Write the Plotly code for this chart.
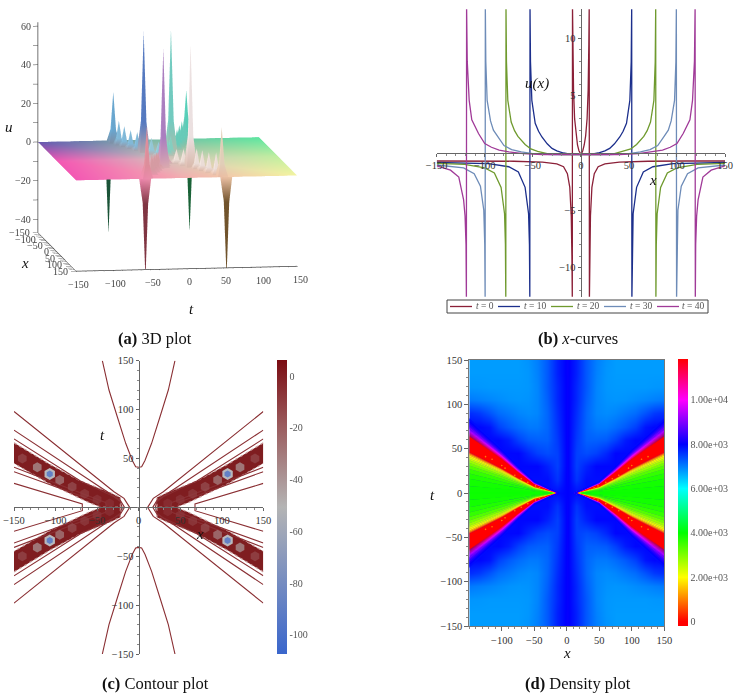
import numpy as np
import plotly.graph_objects as go
from plotly.colors import sample_colorscale

W, H = 738, 699
SERIF = "Liberation Serif"

# ---------- panel (a): 3D spikes
peak_x = [-146,-137,-122,-108,-93,-76,-60,-45,-30, 146,140,110,93,80,65,60,45,30,
          -146,-137,-122,-108,-93,-76,-60,-45,-30, 146,137,122,105,88,73,60,45,30]
peak_t = [-55,-50,-45,-40,-34,-28,-22,-14,-7, -55,-52,-40,-34,-29,-24,-16,-12,-6,
          55,49,44,38,32,26,15,12,6, 55,50,45,38,32,27,21,14,7]
peak_u = [-48,26,12,10,9,9,62,8,7, -52,27,10,9,9,8,61,8,7,
          -48,26,14,12,11,10,63,9,8, -52,25,11,10,10,10,63,8,7]
peak_rgb = ["#1c5a3c","#72b4e0","#8cc8ea","#8cc8ea","#8cc8ea","#8cc8ea","#5c84d0","#a0d8e8","#a0d8e8",
            "#8a3a48","#f09aa8","#e8a8b0","#e8a8b0","#e8a8b0","#e8a8b0","#b98ad0","#e8b0c0","#e8b0c0",
            "#1c6a3c","#60e0c8","#70dcc8","#70dcc8","#70dcc8","#70dcc8","#7cdcd0","#90e0d0","#90e0d0",
            "#7a5a30","#f5e0c8","#fff0ea","#fff0ea","#fff0ea","#fff0ea","#fff4f4","#fff0e8","#fff0e8"]
sheet_x = [-150, 0, 150]
sheet_t = [-150, 0, 150]
sheet_rgb = [[(106,92,184),(128,192,176),(95,240,168)],
             [(255,92,188),(222,205,196),(200,250,168)],
             [(255,92,188),(255,184,184),(255,255,168)]]
spike_half_x, spike_half_t = 11.0, 7.0    # foot of a spike, in axis units
spike_waist, spike_waist_u = 0.42, 0.25   # where the spike's sides steepen
a_t_labels = [-150,-100,-50,0,50,100,150]
a_x_labels = [-150,-100,-50,0,50,100,150]
a_u_labels = [-40,-20,0,20,40,60]

def hexrgb(h): return "rgb(%d,%d,%d)" % (int(h[1:3],16),int(h[3:5],16),int(h[5:7],16))
def sheet_colour(xv,tv):
    cc = np.array(sheet_rgb,float)
    fx=(xv+150)/150; ft=(tv+150)/150
    i0=min(int(fx),1); j0=min(int(ft),1); u=fx-i0; v=ft-j0
    c=(1-u)*(1-v)*cc[i0,j0]+u*(1-v)*cc[i0+1,j0]+(1-u)*v*cc[i0,j0+1]+u*v*cc[i0+1,j0+1]
    return "rgb(%d,%d,%d)" % tuple(c)

mx,mt,mu,mc,mi,mj,mk=[],[],[],[],[],[],[]
for xv in sheet_x:
    for tv in sheet_t:
        mx.append(xv); mt.append(tv); mu.append(0); mc.append(sheet_colour(xv,tv))
for p in range(2):
    for q in range(2):
        a,b,c,d=3*p+q,3*p+q+3,3*p+q+4,3*p+q+1
        mi+=[a,a]; mj+=[b,c]; mk+=[c,d]
for xv,tv,uv,cv in zip(peak_x,peak_t,peak_u,peak_rgb):
    n=len(mx)
    corners=[(-1,-1),(1,-1),(1,1),(-1,1)]
    for sx,st in corners:
        fx=min(max(xv+sx*spike_half_x,-150),150); ft=tv+st*spike_half_t
        mx.append(fx); mt.append(ft); mu.append(0); mc.append(sheet_colour(fx,ft))
    for sx,st in corners:
        mx.append(min(max(xv+sx*spike_half_x*spike_waist,-150),150)); mt.append(tv+st*spike_half_t*spike_waist)
        mu.append(uv*spike_waist_u); mc.append(hexrgb(cv))
    mx.append(xv); mt.append(tv); mu.append(uv); mc.append(hexrgb(cv))
    for s in range(4):
        o=n+s; o2=n+(s+1)%4; w=n+4+s; w2=n+4+(s+1)%4; tip=n+8
        mi+=[o,o,w]; mj+=[o2,w2,w2]; mk+=[w2,w,tip]
surface = go.Mesh3d(x=mt,y=mx,z=mu,i=mi,j=mj,k=mk,vertexcolor=mc,flatshading=True,
    lighting=dict(ambient=0.92,diffuse=0.2,specular=0.0,roughness=0.9,fresnel=0),
    lightposition=dict(x=-1000,y=-3000,z=3000),hoverinfo="skip",showscale=False,scene="scene")

# ---------- panel (b): x-curves
x_t0=[0,1,2,3.5,5,6.5,7.6,8.3,8.7,8.9,9.3,10,11.5,14,18,25,40,70,110,150]
u_t0=[-0.1,0,0.2,0.7,1.5,3,5.5,9.5,12.8,-12.8,-9,-5.5,-3,-1.8,-1.2,-.95,-.8,-.72,-.7,-.7]
x_t10=[0,10,18,25,30,35,40.5,44,47.5,51,52.4,52.9,53.1,53.5,54.4,58,65,75,96,150]
u_t10=[-.15,-.12,0,.18,.4,.8,1.4,1.9,2.6,4.6,8,12.8,-12.8,-8,-5.3,-3,-1.65,-1.2,-.92,-.83]
x_t20=[0,20,35,45,52,58,65.5,69,72.5,76,77.4,77.9,78.1,78.5,79.4,83,90,100,121,150]
u_t20=[-.15,-.13,-.05,.15,.35,.75,1.45,1.95,2.7,4.6,8,12.8,-12.8,-8,-5.3,-3,-1.75,-1.3,-1,-.9]
x_t30=[0,30,50,62,72,80,87,91,94,97.5,98.9,99.4,99.6,100,101,104.5,111,122,150]
u_t30=[-.15,-.13,-.05,.1,.3,.65,1.5,2,2.8,4.6,8,12.8,-12.8,-8,-5,-2.9,-1.8,-1.3,-1.05]
x_t40=[0,40,60,75,85,93,100,106.5,113.5,116.2,118.2,118.9,119.1,119.5,120.5,122,127,135.6,150]
u_t40=[-.15,-.13,-.05,.1,.25,.5,.83,1.7,2.9,4.6,8,12.8,-12.8,-8,-5.5,-4.1,-2.1,-1.5,-1.12]
curve_names = ["<i>t</i> = 0","<i>t</i> = 10","<i>t</i> = 20","<i>t</i> = 30","<i>t</i> = 40"]
curve_colors = ["#8b2038","#1c2f8c","#6f9a2e","#6e8cb8","#a03a98"]
curve_x = [x_t0,x_t10,x_t20,x_t30,x_t40]
curve_u = [u_t0,u_t10,u_t20,u_t30,u_t40]
key_line_from = [450,498,551,604,657]
key_text_at = [484.5,535,588,641,693]

# ---------- panel (c): contours, one quadrant each, mirrored by the symmetry of the plot
cap_x = [43.7,35.7,25.7,15.6,7.6,3.6,0]
cap_t = [150,120,92.7,65.5,48,41.6,41]
level_lines_x = [[150,29.7,17.6,10.8],[150,60,33.7,22,17],[150,70,30,22,20],
                 [150,67.8,67.8],[150,50,46],[150,40,38]]
level_lines_t = [[98,16,9.2,0],[79,28,13,7,0],[70,27,11,6,0],
                 [24.5,3.4,0],[36.5,5.8,0],[41,5,0]]
band_x = [150,107,70,34,22,22,45,60,107,150]
band_t = [66,44,27,15,10,0,0,5,24,45]
spot_x = [140,122,107,95,80,65,50,35]
spot_t = [50,41,34,28,21,14,8,4]
spot_u = [-14,-42,-105,-34,-16,-10,-8,-6]
c_ticks = [-100,-80,-60,-40,-20,0]
c_scale = [[0,"#3a66cc"],[0.5,"#b4b4b4"],[0.78,"#9a5a5c"],[1,"#7a0c12"]]
C_MIN, C_MAX = -107.4, 6.2

# ---------- panel (d): density
rainbow_v = [-200,0,2000,4000,6000,8000,10000,11850]
rainbow_c = ["#ff0000","#ff0000","#ffff00","#00ff00","#00ffff","#0000ff","#ff00ff","#ff0000"]
D_MIN, D_MAX = rainbow_v[0], rainbow_v[-1]
d_scale = [[(v-D_MIN)/(D_MAX-D_MIN),c] for v,c in zip(rainbow_v,rainbow_c)]
density_x = [0,15,30,45,60,75,90,105,120,135,150]
density_t = [0,15,30,45,60,75,90,105,120,135,150]
density_u = [
 [8000,7900,7900,7900,7900,7900,7900,7900,7900,7900,7900],
 [8050,7600,7900,7900,7900,7900,7900,7900,7900,7900,7900],
 [8050,7500,7750,7950,7950,7950,7900,7900,7900,7900,7900],
 [8050,7500,7400,7500,7700,7950,7950,7950,7900,7900,7900],
 [8050,7550,7250,7250,7300,7500,7800,7950,7950,7950,7900],
 [8050,7600,7200,7050,7050,7150,7300,7500,7850,7950,7950],
 [8050,7650,7200,6950,6900,6950,7050,7150,7350,7550,7650],
 [8050,7700,7250,6950,6850,6830,6850,6900,6950,7000,7050],
 [8050,7700,7300,6950,6820,6800,6800,6800,6800,6820,6830],
 [8050,7750,7300,6980,6820,6780,6780,6780,6780,6780,6780],
 [8050,7750,7300,7000,6850,6780,6780,6780,6780,6780,6780]]
band_edge = [0,8,16,22,27,31,34,37,39,41,42.5,44,45,46,64,65,66,67,68,69,70,71,72,73,74.5,76,78,80,82,84]
band_value = [3900,3850,3750,3600,3350,3100,2800,2500,2200,1900,1500,1000,500,0,11600,11200,10900,
              10600,10300,10000,9700,9400,9100,8900,8600,8350,8150,8000,7900]
ribbon_x = [12,25,50,75,100,125,150]
ribbon_s = [0,.05,.16,.37,.6,.8,1]
dot_x = [115,95,80,60,48,35,125,100,70,42]
dot_t = [38,28,20,12,8,4,41,31,16,6]
dot_u = [1000]*10
d_ticktext = ["0","2.00e+03","4.00e+03","6.00e+03","8.00e+03","1.00e+04"]
d_tickvals = [0,2000,4000,6000,8000,10000]

# ---------- layout helpers
def dom_x(a,b): return [a/W,b/W]
def dom_y(top,bot): return [1-bot/H,1-top/H]
tickfont = dict(family=SERIF,size=10.5,color="#333")
fig = go.Figure()
fig.add_trace(surface)

# (b)
for xs,us,n,cl in zip(curve_x,curve_u,curve_names,curve_colors):
    fig.add_trace(go.Scatter(x=[-v for v in xs[::-1]]+xs, y=us[::-1]+us, mode="lines", name=n,
        line=dict(color=cl,width=1.3), xaxis="x", yaxis="y", showlegend=False, hoverinfo="skip"))

# (c)
band_fx,band_ft=[],[]
for sx in (1,-1):
    for st in (1,-1):
        band_fx += [sx*v for v in band_x]+[None]
        band_ft += [st*v for v in band_t]+[None]
fig.add_trace(go.Scatter(x=band_fx,y=band_ft,mode="lines",fill="toself",fillcolor="#7f1d20",
    line=dict(color="#c99a9a",width=1.2,dash="dot"),xaxis="x2",yaxis="y2",showlegend=False,hoverinfo="skip"))
lx,lt=[],[]
for xs,ts in zip(level_lines_x,level_lines_t):
    for sx in (1,-1):
        lx += [sx*v for v in xs]+[sx*v for v in xs[-2::-1]]+[None]
        lt += ts+[-v for v in ts[-2::-1]]+[None]
for st in (1,-1):
    lx += [-v for v in cap_x]+cap_x[-2::-1]+[None]
    lt += [st*v for v in cap_t]+[st*v for v in cap_t[-2::-1]]+[None]
fig.add_trace(go.Scatter(x=lx,y=lt,mode="lines",line=dict(color="#8a2f33",width=1.1),
    xaxis="x2",yaxis="y2",showlegend=False,hoverinfo="skip"))
sx_all,st_all,su_all=[],[],[]
for sx in (1,-1):
    for st in (1,-1):
        sx_all += [sx*v for v in spot_x]; st_all += [st*v for v in spot_t]; su_all += spot_u
big = [i for i,v in enumerate(su_all) if v < -80]
fig.add_trace(go.Scatter(x=[sx_all[i] for i in big],y=[st_all[i] for i in big],mode="markers",
    marker=dict(size=12,color="#b8b8bc",symbol="hexagon",line=dict(width=0)),xaxis="x2",yaxis="y2",showlegend=False,hoverinfo="skip"))
fig.add_trace(go.Scatter(x=sx_all,y=st_all,mode="markers",
    marker=dict(size=[7 if v<-80 else 10 for v in su_all],symbol="hexagon",color=su_all,colorscale=c_scale,cmin=C_MIN,cmax=C_MAX,line=dict(width=0),
        colorbar=dict(x=277/W,xanchor="left",y=1-507/H,yanchor="middle",len=294/H,thickness=10,outlinewidth=0,
            tickvals=c_ticks,ticktext=["-100","-80","-60","-40","-20","0"],ticks="",xpad=0,ypad=0,
            tickfont=dict(family=SERIF,size=10,color="#555"))),
    xaxis="x2",yaxis="y2",showlegend=False,hoverinfo="skip"))

# (d)
def col(v): return sample_colorscale(d_scale,[(v-D_MIN)/(D_MAX-D_MIN)])[0]
hx = [-v for v in density_x[:0:-1]]+density_x
ht = [-v for v in density_t[:0:-1]]+density_t
half = [row[:0:-1]+row for row in density_u]
fig.add_trace(go.Heatmap(x=hx,y=ht,z=half[:0:-1]+half,zsmooth="best",colorscale=d_scale,zmin=D_MIN,zmax=D_MAX,
    colorbar=dict(x=678/W,xanchor="left",y=1-492.5/H,yanchor="middle",len=267/H,thickness=9.5,outlinewidth=0,xpad=0,ypad=0,
        tickvals=d_tickvals,ticktext=d_ticktext,ticks="",tickfont=dict(family=SERIF,size=10,color="#555")),
    xaxis="x3",yaxis="y3",hoverinfo="skip"))
for i,v in enumerate(band_value):
    low=[band_edge[i]*s for s in ribbon_s]; high=[band_edge[i+1]*s for s in ribbon_s]
    px,pt=[],[]
    for sx in (1,-1):
        for st in (1,-1):
            px += [sx*q for q in ribbon_x]+[sx*q for q in ribbon_x[::-1]]+[None]
            pt += [st*q for q in low]+[st*q for q in high[::-1]]+[None]
    clr=col(v)
    fig.add_trace(go.Scatter(x=px,y=pt,mode="lines",fill="toself",fillcolor=clr,line=dict(color=clr,width=0.4),
        xaxis="x3",yaxis="y3",showlegend=False,hoverinfo="skip"))
dx,dt,du=[],[],[]
for sx in (1,-1):
    for st in (1,-1):
        dx += [sx*v for v in dot_x]; dt += [st*v for v in dot_t]; du += dot_u
fig.add_trace(go.Scatter(x=dx,y=dt,mode="markers",marker=dict(size=1.6,color=du,colorscale=d_scale,cmin=D_MIN,cmax=D_MAX,line=dict(width=0)),
    xaxis="x3",yaxis="y3",showlegend=False,hoverinfo="skip"))

def centre_axis(dom,other_mid,vals,minor=10,**kw):
    return dict(domain=dom,anchor="free",position=other_mid,range=kw.pop("rng",[-150,150]),showgrid=False,zeroline=False,
        showline=True,linecolor="#666",linewidth=1,ticks="outside",ticklen=3,tickcolor="#666",tickvals=vals,
        minor=dict(dtick=minor,ticks="outside",ticklen=2,tickcolor="#888",showgrid=False),
        tickfont=tickfont,**kw)

bx,by = dom_x(436.7,725),dom_y(9.3,296.7)
cx,cy = dom_x(14,263.3),dom_y(360.7,654)
xt=[-150,-100,-50,0,50,100,150]
t_marks=[v*12.5 for v in range(-12,13)]
u_marks=list(range(-40,61,10))
shapes=[dict(type="rect",xref="paper",yref="paper",x0=447/W,x1=708/W,y0=1-313/H,y1=1-300/H,
             line=dict(color="#444",width=1),fillcolor="white",layer="above")]
for x0,cl in zip(key_line_from,curve_colors):
    shapes.append(dict(type="line",xref="paper",yref="paper",x0=x0/W,x1=(x0+22)/W,y0=1-306.5/H,y1=1-306.5/H,
                       line=dict(color=cl,width=1.3),layer="above"))
a_font=dict(family=SERIF,size=10,color="#444")
scene_notes=[]
for v in a_t_labels:
    scene_notes.append(dict(x=v,y=150,z=-47,text=str(v).replace("-","\u2212"),showarrow=False,xshift=3,yshift=-13,font=a_font))
for v in a_x_labels:
    scene_notes.append(dict(x=-150,y=v,z=-47,text=str(v).replace("-","\u2212"),showarrow=False,xanchor="right",xshift=-6,font=a_font))
for v in a_u_labels:
    scene_notes.append(dict(x=-150,y=-150,z=v,text=str(v).replace("-","\u2212"),showarrow=False,xanchor="right",xshift=-5,font=a_font))
axis3d=dict(title="",showbackground=False,showgrid=False,zeroline=False,showline=True,linecolor="#444",linewidth=1.5,
            ticks="outside",ticklen=5,tickcolor="#444",tickwidth=1,showticklabels=True,
            tickfont=dict(family=SERIF,size=1,color="rgba(0,0,0,0)"),showspikes=False)
fig.update_layout(
    width=W,height=H,margin=dict(l=0,r=0,t=0,b=0,autoexpand=False),paper_bgcolor="white",plot_bgcolor="rgba(0,0,0,0)",
    font=dict(family=SERIF,color="#222"),showlegend=False,shapes=shapes,
    xaxis=centre_axis(bx,1-152.8/H,xt),
    yaxis=centre_axis(by,580.7/W,[-10,-5,5,10],minor=1,rng=[-12.55,12.55]),
    xaxis2=centre_axis(cx,1-507.3/H,xt),
    yaxis2=centre_axis(cy,138.6/W,[-150,-100,-50,50,100,150]),
    xaxis3=dict(domain=dom_x(469.3,664.3),anchor="y3",range=[-150,150],showgrid=False,zeroline=False,showline=True,
        linecolor="#777",mirror=True,ticks="outside",ticklen=4,tickcolor="#666",tickvals=[-100,-50,0,50,100,150],
        minor=dict(dtick=10,ticks="outside",ticklen=2,tickcolor="#888"),tickfont=tickfont),
    yaxis3=dict(domain=dom_y(360,626),anchor="x3",range=[-150,150],showgrid=False,zeroline=False,showline=True,
        linecolor="#777",mirror=True,ticks="outside",ticklen=4,tickcolor="#666",tickvals=xt,
        minor=dict(dtick=10,ticks="outside",ticklen=2,tickcolor="#888"),tickfont=tickfont),
    scene=dict(domain=dict(x=[0,335/W],y=[1-330/H,1]),
        aspectmode="manual",aspectratio=dict(x=1.355,y=1.574,z=1.29),annotations=scene_notes,
        camera=dict(projection=dict(type="orthographic"),eye=dict(x=-0.29,y=-1.96,z=0.173),up=dict(x=0,y=0,z=1),center=dict(x=0,y=0,z=-0.127)),
        xaxis=dict(range=[-150,150],tickvals=t_marks,**axis3d),
        yaxis=dict(range=[150,-150],tickvals=t_marks,**axis3d),
        zaxis=dict(range=[-47,62],tickvals=u_marks,**axis3d)),
)
def note(text,px,py,size=14,color="#111"):
    fig.add_annotation(text=text,x=px/W,y=1-py/H,xref="paper",yref="paper",showarrow=False,
        xanchor="center",yanchor="middle",font=dict(family=SERIF,size=size,color=color))
for text,px,py in [("<i>u</i>",9,127),("<i>x</i>",25,263),("<i>t</i>",191,309),
                   ("<i>u(x)</i>",537,83),("<i>x</i>",653,180),
                   ("<i>t</i>",102,435),("<i>x</i>",200,534),("<i>t</i>",432,495),("<i>x</i>",567,653)]:
    note(text,px,py,15)
for text,px,py in [("<b>(a)</b> 3D plot",155,338),("<b>(b)</b> <i>x</i>-curves",577.5,338),
                   ("<b>(c)</b> Contour plot",155.5,683),("<b>(d)</b> Density plot",578,683)]:
    note(text,px,py,16.5)
for text,px in zip(curve_names,key_text_at):
    note(text,px,306.5,9.5,"#555")
fig.write_html("out.html",post_script="document.body.style.margin='0';",config=dict(displayModeBar=False))
